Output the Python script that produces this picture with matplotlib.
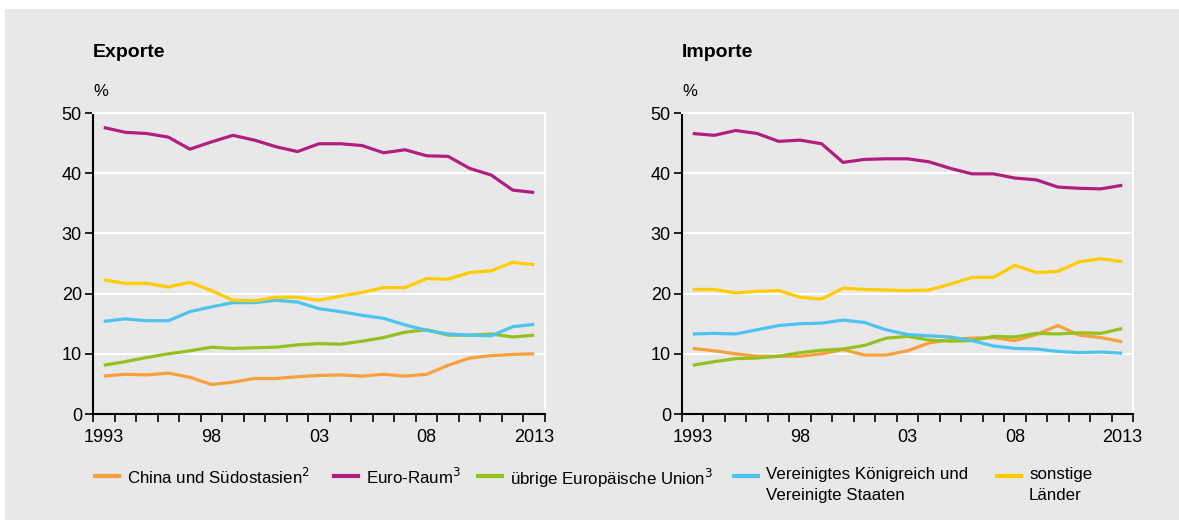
import matplotlib
matplotlib.use("Agg")
import matplotlib.pyplot as plt
from matplotlib.lines import Line2D
from matplotlib.patches import Rectangle

years = list(range(1993, 2014))

exp_china = [6.3, 6.6, 6.5, 6.8, 6.1, 4.9, 5.3, 5.9, 5.9, 6.2, 6.4, 6.5, 6.3, 6.6, 6.3, 6.6, 8.1, 9.3, 9.7, 9.9, 10.0]
exp_euro = [47.6, 46.8, 46.6, 46.0, 44.0, 45.2, 46.3, 45.5, 44.4, 43.6, 44.9, 44.9, 44.6, 43.4, 43.9, 42.9, 42.8, 40.8, 39.7, 37.2, 36.8]
exp_eu = [8.1, 8.7, 9.4, 10.0, 10.5, 11.1, 10.9, 11.0, 11.1, 11.5, 11.7, 11.6, 12.1, 12.7, 13.6, 14.0, 13.1, 13.1, 13.3, 12.8, 13.1]
exp_ukus = [15.4, 15.8, 15.5, 15.5, 17.0, 17.8, 18.5, 18.5, 18.9, 18.6, 17.5, 17.0, 16.4, 15.9, 14.8, 13.9, 13.3, 13.1, 13.0, 14.5, 14.9]
exp_other = [22.3, 21.7, 21.7, 21.1, 21.9, 20.5, 18.9, 18.8, 19.4, 19.4, 18.9, 19.6, 20.2, 21.0, 21.0, 22.5, 22.4, 23.5, 23.8, 25.2, 24.8]

imp_china = [10.9, 10.5, 10.0, 9.6, 9.6, 9.6, 10.0, 10.7, 9.8, 9.8, 10.5, 11.8, 12.4, 12.6, 12.7, 12.2, 13.2, 14.7, 13.1, 12.7, 12.0]
imp_euro = [46.6, 46.3, 47.1, 46.6, 45.3, 45.5, 44.9, 41.8, 42.3, 42.4, 42.4, 41.9, 40.8, 39.9, 39.9, 39.2, 38.9, 37.7, 37.5, 37.4, 38.0]
imp_eu = [8.1, 8.7, 9.2, 9.3, 9.6, 10.2, 10.6, 10.8, 11.4, 12.6, 12.9, 12.3, 12.1, 12.2, 12.9, 12.8, 13.4, 13.3, 13.5, 13.4, 14.2]
imp_ukus = [13.3, 13.4, 13.3, 14.0, 14.7, 15.0, 15.1, 15.6, 15.2, 14.0, 13.2, 13.0, 12.8, 12.2, 11.3, 10.9, 10.8, 10.4, 10.2, 10.3, 10.1]
imp_other = [20.7, 20.7, 20.1, 20.4, 20.5, 19.4, 19.1, 20.9, 20.7, 20.6, 20.5, 20.6, 21.6, 22.7, 22.7, 24.7, 23.5, 23.7, 25.3, 25.8, 25.3]

labels = ["China und Südostasien$^2$", "Euro-Raum$^3$", "übrige Europäische Union$^3$",
          "Vereinigtes Königreich und\nVereinigte Staaten", "sonstige\nLänder"]
colors = ["#f7a03c", "#b01f7f", "#95c11f", "#4dc3f0", "#ffcc00"]
tick_years = [1993, 1998, 2003, 2008, 2013]
tick_labels = ["1993", "98", "03", "08", "2013"]

bg = "#e8e8e8"
plt.rcParams["font.family"] = ["Liberation Sans", "DejaVu Sans"]

fig = plt.figure(figsize=(11.79, 5.2), dpi=100)
fig.patch.set_facecolor("white")
fig.patches.append(Rectangle((5 / 1179, 0), 1, 1 - 9 / 520, transform=fig.transFigure,
                             facecolor=bg, edgecolor="none", zorder=-10))

ax1 = fig.add_axes([93 / 1179, 0.2038, 452 / 1179, 0.5788])
ax2 = fig.add_axes([682 / 1179, 0.2038, 451 / 1179, 0.5788])

panels = [(ax1, "Exporte", [exp_china, exp_euro, exp_eu, exp_ukus, exp_other]),
          (ax2, "Importe", [imp_china, imp_euro, imp_eu, imp_ukus, imp_other])]

for ax, title, series in panels:
    ax.set_facecolor(bg)
    for vals, c in zip(series, colors):
        ax.plot(years, vals, color=c, lw=2.3, solid_capstyle="butt", zorder=3)
    ax.set_xlim(1992.5, 2013.5)
    ax.set_ylim(0, 50)
    ax.set_yticks([0, 10, 20, 30, 40, 50])
    for y in [10, 20, 30, 40]:
        ax.axhline(y, color="white", lw=1.5, zorder=1)
    # tick marks sit between the years, labels sit on the years
    ax.set_xticks([y + 0.5 for y in range(1992, 2014)])
    ax.set_xticklabels([])
    ax.set_xticks(tick_years, minor=True)
    ax.set_xticklabels(tick_labels, minor=True)
    ax.tick_params(axis="x", which="major", direction="out", length=6, width=1.2, color="black")
    ax.tick_params(axis="x", which="minor", length=0, pad=10.5, labelsize=13)
    ax.tick_params(axis="y", direction="out", length=6, width=1.2, labelsize=13, pad=2)
    for s in ["left", "bottom"]:
        ax.spines[s].set_color("black")
        ax.spines[s].set_linewidth(1.5)
    for s in ["top", "right"]:
        ax.spines[s].set_color("white")
        ax.spines[s].set_linewidth(1.5)
    ax.text(0, 1.07, "%", transform=ax.transAxes, fontsize=12, ha="left", va="center")
    ax.text(0, 1.2, title, transform=ax.transAxes, fontsize=14, fontweight="bold",
            ha="left", va="center")

# legend, drawn by hand so that multi-line labels keep their handles on the first line
handle_x = [95, 334, 478, 734, 997]
ly = 1 - 476 / 520
for hx, lab, c in zip(handle_x, labels, colors):
    fig.add_artist(Line2D([hx / 1179, (hx + 24) / 1179], [ly, ly], color=c, lw=3,
                          transform=fig.transFigure))
    fig.text((hx + 32) / 1179, ly + 0.017, lab, fontsize=12.2, ha="left", va="top",
             linespacing=1.45)

fig.savefig("out.png", dpi=100, facecolor=fig.get_facecolor())
